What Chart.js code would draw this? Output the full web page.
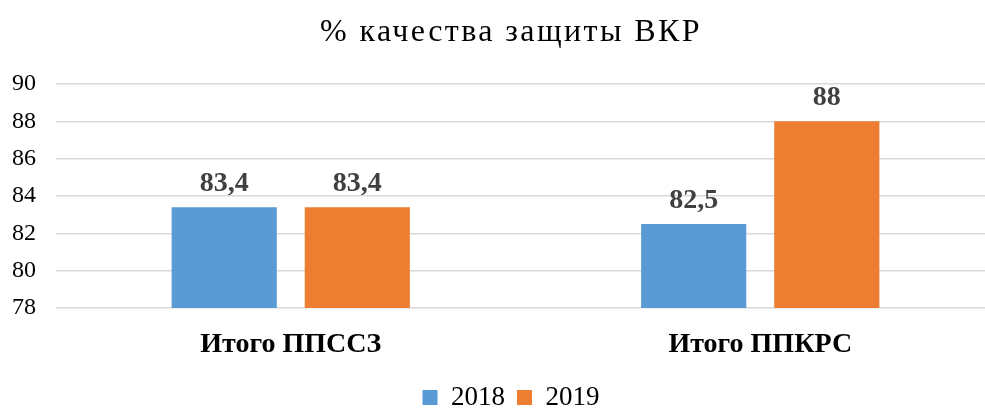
<!DOCTYPE html>
<html>
<head>
<meta charset="utf-8">
<script src="https://cdn.jsdelivr.net/npm/chart.js@4/dist/chart.umd.min.js"></script>
<style>
html,body{margin:0;padding:0;background:#fff;overflow:hidden;width:985px;height:408px;}
canvas{display:block;}
</style>
</head>
<body>
<canvas id="c" width="1022" height="421"></canvas>
<script>
const titleText = '% качества защиты ВКР';
const categories = ['Итого ППССЗ', 'Итого ППКРС'];
const seriesNames = ['2018', '2019'];
const values2018 = [83.4, 82.5];
const values2019 = [83.4, 88];
const yTicks = [78, 80, 82, 84, 86, 88, 90];

const FONT = "'Liberation Serif', 'Times New Roman', serif";

const valueLabels = {
  id: 'valueLabels',
  afterDatasetsDraw(chart) {
    const ctx = chart.ctx;
    ctx.save();
    ctx.font = 'bold 28px ' + FONT;
    ctx.fillStyle = '#404040';
    ctx.textAlign = 'center';
    ctx.textBaseline = 'alphabetic';
    chart.data.datasets.forEach((ds, i) => {
      const meta = chart.getDatasetMeta(i);
      meta.data.forEach((el, j) => {
        const txt = String(ds.data[j]).replace('.', ',');
        ctx.fillText(txt, el.x, el.y - 16);
      });
    });
    ctx.restore();
  }
};

const titleSpacing = {
  id: 'titleSpacing',
  beforeDraw(chart) {
    const tb = chart.titleBlock;
    if (tb && !tb._spaced) {
      const orig = tb.draw.bind(tb);
      tb.draw = function (area) {
        const c = chart.ctx;
        c.save();
        c.letterSpacing = '2.4px';
        orig(area);
        c.restore();
      };
      tb._spaced = true;
    }
  }
};

new Chart(document.getElementById('c'), {
  type: 'bar',
  data: {
    labels: categories,
    datasets: [
      { label: seriesNames[0], data: values2018, backgroundColor: '#5B9BD5', borderWidth: 0, yAxisID: 'y' },
      { label: seriesNames[1], data: values2019, backgroundColor: '#ED7D31', borderWidth: 0, yAxisID: 'y' }
    ]
  },
  options: {
    responsive: false,
    animation: false,
    events: [],
    layout: { padding: 0 },
    datasets: { bar: { categoryPercentage: 0.567, barPercentage: 0.79 } },
    plugins: {
      title: {
        display: true,
        text: titleText,
        color: '#000',
        font: { family: FONT, size: 32, weight: 'normal', lineHeight: 1.2 },
        padding: { top: 13, bottom: 32.6 }
      },
      legend: {
        position: 'bottom',
        labels: {
          color: '#000',
          font: { family: FONT, size: 27 },
          boxWidth: 15,
          boxHeight: 15,
          padding: 12
        }
      },
      tooltip: { enabled: false }
    },
    scales: {
      x: {
        afterFit(scale) { scale.height = 64; },
        grid: { display: false },
        border: { display: false },
        ticks: {
          color: '#000',
          font: { family: FONT, size: 28, weight: 'bold' },
          padding: 11.5
        }
      },
      y: {
        position: 'left',
        min: 78,
        max: 90,
        afterBuildTicks(scale) { scale.ticks = yTicks.map(v => ({ value: v })); },
        afterFit(scale) { scale.width = 56; },
        grid: { color: '#D9D9D9', lineWidth: 1.5, drawTicks: false },
        border: { display: false },
        ticks: {
          color: '#000',
          font: { family: FONT, size: 24 },
          padding: 20
        }
      },
      yRight: {
        position: 'right',
        afterFit(scale) { scale.width = 27; },
        grid: { display: false, drawTicks: false },
        border: { display: false },
        ticks: { display: false }
      }
    }
  },
  plugins: [valueLabels, titleSpacing]
});
</script>
</body>
</html>
